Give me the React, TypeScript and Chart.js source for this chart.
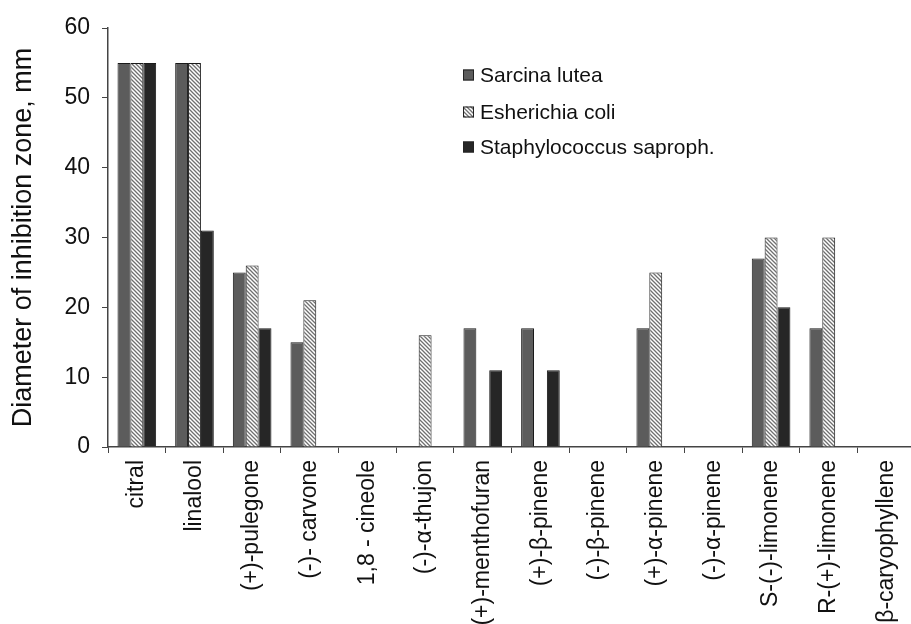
import React, { useEffect, useRef } from "react";
import { Chart, registerables } from "chart.js";

Chart.register(...registerables);

const categories = [
  "citral",
  "linalool",
  "(+)-pulegone",
  "(-)- carvone",
  "1,8 - cineole",
  "(-)-α-thujon",
  "(+)-menthofuran",
  "(+)-β-pinene",
  "(-)-β-pinene",
  "(+)-α-pinene",
  "(-)-α-pinene",
  "S-(-)-limonene",
  "R-(+)-limonene",
  "β-caryophyllene",
];

const seriesNames = ["Sarcina lutea", "Esherichia coli", "Staphylococcus saproph."];

const sarcinaLutea = [55, 55, 25, 15, 0, 0, 17, 17, 0, 17, 0, 27, 17, 0];
const esherichiaColi = [55, 55, 26, 21, 0, 16, 0, 0, 0, 25, 0, 30, 30, 0];
const staphylococcus = [55, 31, 17, 0, 0, 0, 11, 11, 0, 0, 0, 20, 0, 0];

const yTicks = [0, 10, 20, 30, 40, 50, 60];

function makeHatch(): CanvasPattern | string {
  const c = document.createElement("canvas");
  c.width = 4;
  c.height = 4;
  const ctx = c.getContext("2d");
  if (!ctx) return "#ddd";
  ctx.fillStyle = "#ffffff";
  ctx.fillRect(0, 0, 4, 4);
  ctx.strokeStyle = "#707070";
  ctx.lineWidth = 1.3;
  ctx.beginPath();
  ctx.moveTo(-1, -1);
  ctx.lineTo(5, 5);
  ctx.moveTo(-1, 3);
  ctx.lineTo(1, 5);
  ctx.moveTo(3, -1);
  ctx.lineTo(5, 1);
  ctx.stroke();
  const p = ctx.createPattern(c, "repeat");
  return p || "#ddd";
}

const FONT = "'Liberation Sans', Arial, sans-serif";

export default function App() {
  const ref = useRef<HTMLCanvasElement | null>(null);

  useEffect(() => {
    if (!ref.current) return;
    const hatch = makeHatch();
    const fills: (string | CanvasPattern)[] = ["#5c5c5c", hatch, "#262626"];
    const values = [sarcinaLutea, esherichiaColi, staphylococcus];

    const legendPlugin = {
      id: "customLegend",
      afterDraw(chart: any) {
        const ctx = chart.ctx as CanvasRenderingContext2D;
        ctx.save();
        const rows = [75, 112, 147];
        seriesNames.forEach((name, i) => {
          const y = rows[i];
          ctx.fillStyle = fills[i] as any;
          ctx.fillRect(463, y - 5.5, 11, 11);
          ctx.strokeStyle = "#222";
          ctx.lineWidth = 1;
          ctx.strokeRect(463.5, y - 5, 10, 10);
          ctx.fillStyle = "#111";
          ctx.font = `21px ${FONT}`;
          ctx.textBaseline = "middle";
          ctx.textAlign = "left";
          ctx.fillText(name, 480, y + 1);
        });
        ctx.restore();
      },
    };

    const chart = new Chart(ref.current, {
      type: "bar",
      data: {
        labels: categories,
        datasets: values.map((v, i) => ({
          label: seriesNames[i],
          data: v,
          backgroundColor: fills[i] as any,
          borderColor: "#1a1a1a",
          borderWidth: 1,
          categoryPercentage: 0.67,
          barPercentage: 1.0,
        })),
      },
      options: {
        responsive: false,
        animation: false,
        layout: { padding: { top: 28, right: 0, left: 0, bottom: 0 } },
        plugins: {
          legend: { display: false },
          tooltip: { enabled: false },
        },
        scales: {
          x: {
            offset: true,
            grid: {
              display: true,
              offset: true,
              drawOnChartArea: false,
              drawTicks: true,
              tickLength: 6,
              color: "#444",
            },
            border: { display: true, color: "#444", width: 1.5 },
            ticks: {
              minRotation: 90,
              maxRotation: 90,
              autoSkip: false,
              padding: 7,
              color: "#111",
              font: { family: FONT, size: 23 },
            },
            afterFit(scale: any) {
              scale.height = 177;
            },
          },
          y: {
            min: 0,
            max: 60,
            afterBuildTicks(scale: any) {
              scale.ticks = yTicks.map((v) => ({ value: v }));
            },
            grid: {
              display: true,
              drawOnChartArea: false,
              drawTicks: true,
              tickLength: 6,
              color: "#444",
            },
            border: { display: true, color: "#444", width: 1.5 },
            ticks: {
              padding: 12,
              color: "#111",
              font: { family: FONT, size: 23 },
            },
            title: {
              display: true,
              text: "Diameter of inhibition zone, mm",
              color: "#111",
              padding: { top: 10, bottom: 0 },
              font: { family: FONT, size: 27, lineHeight: 1 },
            },
            afterFit(scale: any) {
              scale.width = 108;
            },
          },
        },
      },
      plugins: [legendPlugin],
    });
    return () => chart.destroy();
  }, []);

  return (
    <div
      style={{
        position: "fixed",
        left: 0,
        top: 0,
        width: 911,
        height: 624,
        overflow: "hidden",
        background: "#fff",
      }}
    >
      <canvas ref={ref} width={921} height={624} style={{ display: "block" }} />
    </div>
  );
}
